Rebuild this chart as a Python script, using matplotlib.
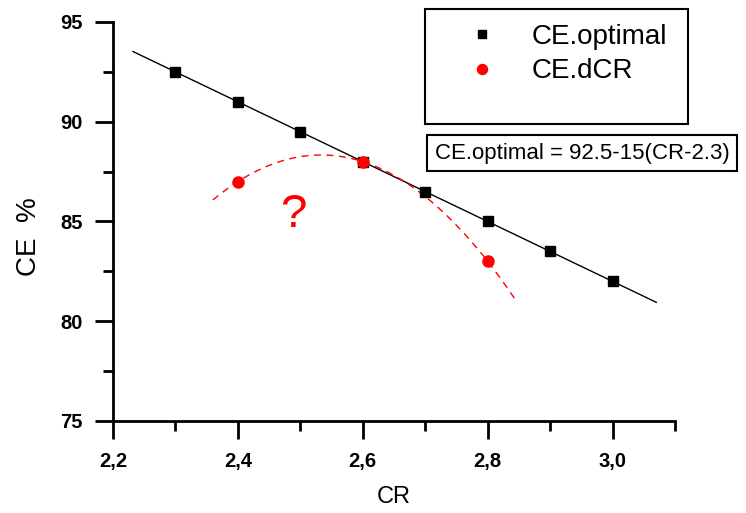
import numpy as np
import matplotlib.pyplot as plt
from matplotlib.patches import Rectangle
from matplotlib.ticker import MultipleLocator, FuncFormatter

plt.rcParams['font.family'] = ['Liberation Sans', 'DejaVu Sans']

#%%
# compression ratio vs efficiency
cr_opt = [2.3, 2.4, 2.5, 2.6, 2.7, 2.8, 2.9, 3.0]
ce_opt = [92.5, 91.0, 89.5, 88.0, 86.5, 85.0, 83.5, 82.0]

cr_dcr = [2.4, 2.6, 2.8]
ce_dcr = [87.0, 88.0, 83.0]

xticks = [2.2, 2.4, 2.6, 2.8, 3.0]
yticks = [75, 80, 85, 90, 95]

# linear fit for the optimal line, quadratic through the dCR points
p_lin = np.polyfit(cr_opt, ce_opt, 1)
p_quad = np.polyfit(cr_dcr, ce_dcr, 2)
x_lin = np.linspace(2.232, 3.07, 50)
x_quad = np.linspace(2.36, 2.845, 80)

#%%
fig = plt.figure(figsize=(7.46, 5.13), dpi=100)
ax = fig.add_axes([113 / 746, 1 - 421 / 513, 562 / 746, 399 / 513])

ax.plot(x_lin, np.polyval(p_lin, x_lin), color='black', lw=1.0)
ax.plot(x_quad, np.polyval(p_quad, x_quad), color='red', lw=1.0, ls=(0, (5, 4)))
ax.plot(cr_opt, ce_opt, 's', color='black', ms=7, label='CE.optimal')
ax.plot(cr_dcr, ce_dcr, 'o', color='red', ms=8, label='CE.dCR')

ax.set_xlim(2.2, 3.1)
ax.set_ylim(75, 95)
ax.set_xticks(xticks)
ax.set_yticks(yticks)
ax.xaxis.set_minor_locator(MultipleLocator(0.1))
ax.yaxis.set_minor_locator(MultipleLocator(2.5))
ax.xaxis.set_major_formatter(FuncFormatter(lambda v, p: ('%.1f' % v).replace('.', ',')))
ax.tick_params(which='major', length=13, width=2, pad=9)
ax.tick_params(which='minor', length=7, width=2)
for lab in ax.get_xticklabels() + ax.get_yticklabels():
    lab.set_fontweight('bold')
    lab.set_fontsize(14.5)

for s in ['top', 'right']:
    ax.spines[s].set_visible(False)
for s in ['left', 'bottom']:
    ax.spines[s].set_linewidth(2)

ax.set_xlabel('CR', fontsize=17, labelpad=11)
ax.set_ylabel('CE  %', fontsize=20)
ax.yaxis.set_label_coords(-0.126, 0.461)

ax.text(2.489, 85.33, '?', color='red', fontsize=34, ha='center', va='center')

# legend in a tall box
fig.patches.append(Rectangle((425 / 746, 1 - 124 / 513), 263 / 746, 115 / 513,
                             transform=fig.transFigure, fill=False, lw=1.5, ec='black'))
ax.legend(loc='upper left', bbox_to_anchor=(454 / 746, 1 - 10 / 513),
          bbox_transform=fig.transFigure, frameon=False, fontsize=20,
          borderpad=0, handlelength=1.0, handletextpad=1.3, labelspacing=0.3,
          markerscale=0.9)

fig.text(582 / 746, 1 - 153 / 513, 'CE.optimal = 92.5-15(CR-2.3)', fontsize=16,
         ha='center', va='center',
         bbox=dict(boxstyle='square,pad=0.35', fc='white', ec='black', lw=1.5))

plt.savefig('out.png', dpi=100)
